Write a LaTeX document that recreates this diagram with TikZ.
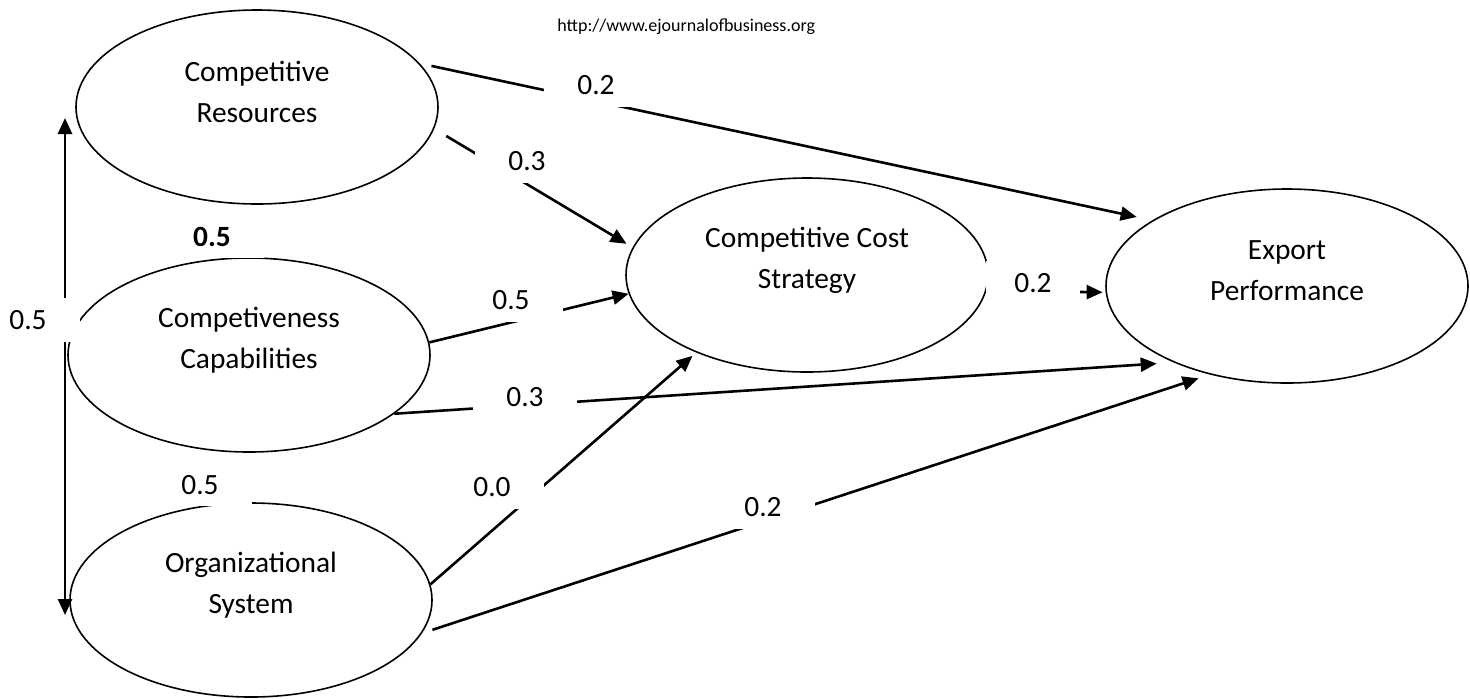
\documentclass[tikz,border=0pt]{standalone}
\usepackage{fontspec}
\setmainfont{Carlito}
\usetikzlibrary{shapes,arrows.meta}

\begin{document}
\begin{tikzpicture}[x=0.5pt,y=-0.5pt,>={Triangle[length=8pt,width=7pt]}]
  \tikzstyle{latent}=[ellipse,draw,line width=0.8pt,minimum width=181pt,minimum height=97pt,inner sep=0pt]
  \tikzstyle{ltext}=[align=center,inner sep=0pt,font=\fontsize{14.7}{20.5}\selectfont,yshift=7.5pt]
  \tikzstyle{conn}=[line width=1.3pt,->]
  \tikzstyle{coef}=[fill=white,inner sep=0pt,minimum width=52pt,minimum height=22pt,font=\fontsize{14.7}{16}\selectfont]
  \useasboundingbox (0,0) rectangle (1470,698);
  \node[latent] (cr) at (257,107) {};
  \node[latent] (cc) at (249,355) {};
  \node[latent] (os) at (251,600) {};
  \node[latent] (ccs) at (807,275) {};
  \node[latent] (ep) at (1287,286) {};
  \node[ltext] (crtxt) at (cr) {Competitive\\Resources};
  \node[ltext] (cctxt) at (cc) {Competiveness\\Capabilities};
  \node[ltext] (ostxt) at (os) {Organizational\\System};
  \node[ltext] (ccstxt) at (ccs) {Competitive Cost\\Strategy};
  \node[ltext] (eptxt) at (ep) {Export\\Performance};
  \coordinate (crin) at (65,118);
  \coordinate (osin) at (65,615);
  \draw[conn,<->] (crin) -- (osin);
  \draw[conn,shorten <=6pt,shorten >=8pt] (cr.15) -- (ep.154);
  \draw[conn,shorten <=7pt,shorten >=3.5pt] (cr.-7) -- (ccs.171);
  \draw[conn] (cc.4) -- (ccs.186);
  \draw[conn,shorten >=8.5pt] (cc.-22) -- (ep.214);
  \draw[conn,shorten >=2.5pt] (os.5) -- (ccs.215);
  \draw[conn,shorten <=5.5pt,shorten >=6pt] (os.-11) -- (ep.229);
  \draw[conn,shorten >=1.5pt] (ccs.-5) -- (ep.182);
  \node[coef] (w1) at (596,85) {0.2};
  \node[coef] (w2) at (527,161) {0.3};
  \node[coef] (w3) at (511,300) {0.5};
  \node[coef] (w4) at (525,397) {0.3};
  \node[coef] (w5) at (492,487) {0.0};
  \node[coef] (w6) at (763,507) {0.2};
  \node[coef,minimum width=47pt] (w7) at (1033,283) {0.2};
  \node[coef] (w8) at (28,320) {0.5};
  \node[coef,minimum height=21pt,font=\fontsize{14.7}{16}\selectfont\bfseries] (r1) at (212,237) {0.5};
  \node[coef,minimum height=21pt] (r2) at (200,485) {0.5};
  \node[anchor=west,inner sep=0pt,font=\fontsize{9}{11}\selectfont] (url) at (557,27) {http://www.ejournalofbusiness.org};
\end{tikzpicture}
\end{document}
